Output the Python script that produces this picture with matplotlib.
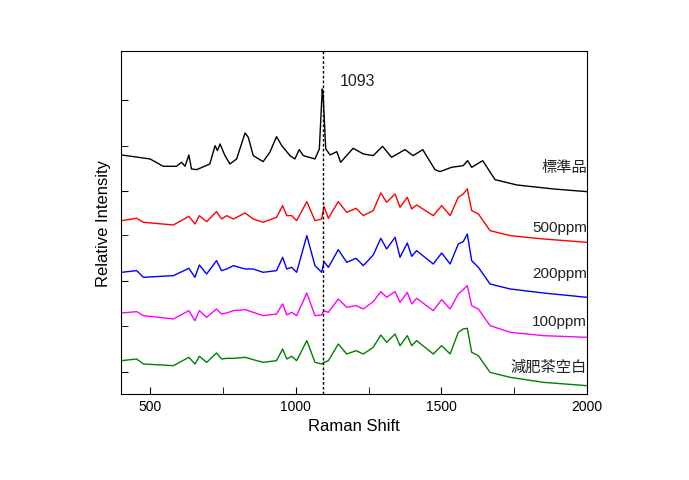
import matplotlib
matplotlib.use("Agg")
import matplotlib.pyplot as plt
from matplotlib.ticker import NullFormatter

plt.rcParams['font.family'] = ['Liberation Sans', 'Noto Sans CJK TC', 'DejaVu Sans']

# offset intensity, arbitrary units (larger = lower on the plot)
std_shift = [402, 500, 545, 590, 608, 620, 633, 642, 660, 705, 723, 731, 740, 757, 774, 797,
             826, 837, 854, 888, 911, 934, 952, 980, 997, 1012, 1026, 1066, 1081, 1091, 1094,
             1103, 1118, 1141, 1154, 1197, 1232, 1266, 1298, 1329, 1375, 1403, 1436, 1478,
             1495, 1535, 1575, 1590, 1604, 1642, 1684, 1759, 1885, 1999]
std_int = [-42, -30, -8, -8, -20, -8, -42, 0, 2, -15, -70, -55, -75, -40, -15, -30, -108, -95,
           -40, -22, -50, -97, -70, -40, -30, -58, -40, -30, -60, -240, -220, -60, -42, -52,
           -20, -62, -45, -40, -68, -35, -58, -40, -58, 2, 8, -5, -10, -25, -5, -25, 32, 48,
           60, 68]

shift = [402, 454, 477, 580, 633, 654, 669, 694, 728, 745, 763, 786, 826, 854, 888, 934, 955,
         969, 986, 1003, 1038, 1066, 1089, 1097, 1112, 1146, 1175, 1207, 1232, 1266, 1292,
         1312, 1341, 1358, 1383, 1398, 1415, 1472, 1501, 1530, 1558, 1575, 1589, 1604, 1627,
         1667, 1736, 1850, 1999]
ppm500 = [155, 148, 160, 168, 142, 165, 140, 158, 128, 150, 140, 150, 132, 150, 160, 145, 110,
          140, 140, 155, 98, 155, 150, 112, 148, 98, 130, 118, 140, 125, 72, 100, 75, 115, 85,
          120, 108, 140, 110, 140, 85, 75, 60, 125, 135, 185, 200, 210, 220]
ppm200 = [310, 305, 325, 320, 298, 325, 288, 315, 275, 305, 300, 290, 300, 300, 310, 305, 265,
          300, 295, 310, 200, 290, 310, 278, 295, 242, 280, 268, 290, 258, 208, 240, 205, 265,
          222, 262, 245, 285, 252, 285, 225, 218, 195, 275, 295, 345, 360, 372, 385]
ppm100 = [432, 428, 440, 450, 425, 455, 425, 445, 420, 435, 432, 425, 422, 430, 440, 435, 405,
          438, 430, 440, 372, 440, 438, 425, 430, 390, 415, 410, 420, 398, 368, 385, 368, 400,
          370, 405, 388, 425, 392, 420, 375, 362, 350, 410, 420, 470, 490, 500, 505]
blank = [575, 570, 585, 590, 565, 585, 562, 580, 552, 570, 568, 568, 565, 572, 580, 575, 540,
         570, 562, 575, 515, 580, 585, 580, 575, 525, 555, 545, 555, 535, 498, 520, 495, 530,
         500, 530, 515, 555, 530, 555, 490, 480, 478, 550, 560, 610, 625, 640, 650]

labels = ["標準品", "500ppm", "200ppm", "100ppm", "減肥茶空白"]
label_y = [-6, 174, 312, 456, 594]
colors = ["black", "red", "blue", "magenta", "green"]

fig = plt.figure(figsize=(6.89, 4.81), dpi=100)
ax = fig.add_axes([0.1756, 0.1788, 0.6764, 0.7132])

ax.plot(std_shift, std_int, color=colors[0], lw=1)
for ys, c in zip([ppm500, ppm200, ppm100, blank], colors[1:]):
    ax.plot(shift, ys, color=c, lw=1)

ax.axvline(1093, color="black", ls=(0, (2, 1.5)), lw=1)
ax.text(1152, -264, "1093", fontsize=11.5, va="center", ha="left", color="#222222")
for lab, y in zip(labels, label_y):
    ax.text(2000, y, lab, fontsize=11, ha="right", va="center", color="#222222")

ax.set_xlim(400, 2000)
ax.set_ylim(675, -354)
ax.set_xticks([500, 1000, 1500, 2000])
ax.set_xticks([750, 1250, 1750], minor=True)
ax.set_yticks([-207, 66, 336, 609])
ax.set_yticks([-69, 198, 471], minor=True)
ax.yaxis.set_major_formatter(NullFormatter())
ax.tick_params(which="both", direction="in", top=False, right=False, labelsize=10, length=5)
ax.set_xlabel("Raman Shift", fontsize=12)
ax.set_ylabel("Relative Intensity", fontsize=12)

fig.savefig("out.png", dpi=100)
